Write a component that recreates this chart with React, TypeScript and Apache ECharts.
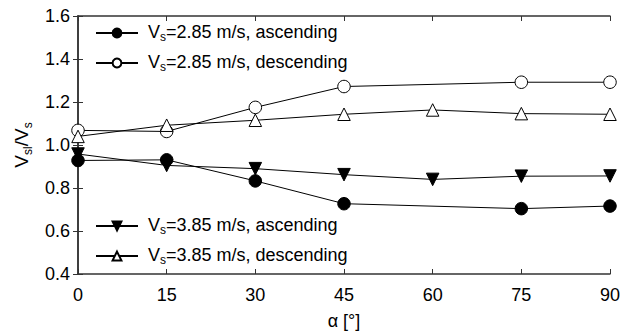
import React, { useEffect, useRef } from "react";
import * as echarts from "echarts";

const angles = [0, 15, 30, 45, 60, 75, 90];
const asc285: number[][] = [[0, 0.928], [15, 0.931], [30, 0.833], [45, 0.727], [75, 0.704], [90, 0.716]];
const desc285: number[][] = [[0, 1.068], [15, 1.063], [30, 1.175], [45, 1.272], [75, 1.292], [90, 1.292]];
const asc385 = [0.958, 0.905, 0.89, 0.862, 0.84, 0.855, 0.856];
const desc385 = [1.04, 1.092, 1.115, 1.143, 1.163, 1.146, 1.143];
const seriesNames = ["a285", "d285", "a385", "d385"];
const legendTexts = ["=2.85 m/s, ascending", "=2.85 m/s, descending", "=3.85 m/s, ascending", "=3.85 m/s, descending"];

const FONT = "Liberation Sans, Arial, sans-serif";
const FS = 18;

export default function App() {
  const ref = useRef<HTMLDivElement>(null);
  useEffect(() => {
    const chart = echarts.init(ref.current!, undefined, { renderer: "svg" });
    const rich = {
      n: { fontSize: FS, fontFamily: FONT, color: "#000", lineHeight: 20, verticalAlign: "top" as const },
      sub: { fontSize: 12, fontFamily: FONT, color: "#000", lineHeight: 12, padding: [12, 0, 0, 0], verticalAlign: "bottom" as const },
    };
    const legendPos = [14, 44, 207, 237];
    const legends = seriesNames.map((name, i) => ({
      data: [name],
      left: 90,
      top: legendPos[i],
      itemWidth: 42,
      itemHeight: 11,
      selectedMode: false,
      formatter: () => `{n|V}{sub|s}{n|${legendTexts[i]}}`,
      textStyle: { rich, padding: [0, 0, 0, 5] },
    }));
    const mk = (name: string, data: any, symbol: string, filled: boolean, rotate = 0) => ({
      name,
      type: "line",
      data,
      symbol,
      symbolSize: 12.5,
      symbolRotate: rotate,
      showAllSymbol: true,
      lineStyle: { color: "#000", width: 1 },
      itemStyle: { color: filled ? "#000" : "#fff", borderColor: "#000", borderWidth: 1 },
      xAxisIndex: 0,
      yAxisIndex: 0,
      z: 3,
    });
    const axisLine = { show: true, lineStyle: { color: "#333", width: 1.5 } };
    const axisTick = { show: true, inside: true, length: 5, lineStyle: { color: "#333", width: 1 } };
    chart.setOption({
      animation: false,
      backgroundColor: "#fff",
      grid: { left: 78, right: 22, top: 16, bottom: 51 },
      legend: legends,
      xAxis: [
        {
          type: "value", min: 0, max: 90, interval: 15, position: "bottom",
          axisLine, axisTick, splitLine: { show: false },
          axisLabel: { fontSize: 18, fontFamily: FONT, color: "#000", margin: 12 },
          name: "α [°]", nameLocation: "middle", nameGap: 38,
          nameTextStyle: { fontSize: 18, fontFamily: FONT, color: "#000" },
        },
        {
          type: "value", min: 0, max: 90, interval: 15, position: "top",
          axisLine, axisTick, splitLine: { show: false }, axisLabel: { show: false },
        },
      ],
      yAxis: [
        {
          type: "value", min: 0.4, max: 1.6, interval: 0.2, position: "left",
          axisLine, axisTick, splitLine: { show: false },
          axisLabel: { fontSize: 18, fontFamily: FONT, color: "#000", margin: 8, formatter: (v: number) => v.toFixed(1) },
          name: "{n|V}{sub|sl}{n|/V}{sub|s}", nameLocation: "middle", nameGap: 42, nameRotate: 90,
          nameTextStyle: {
            color: "#000",
            rich: {
              n: { fontSize: 19, fontFamily: FONT, color: "#000", lineHeight: 22, verticalAlign: "top" },
              sub: { fontSize: 12, fontFamily: FONT, color: "#000", lineHeight: 12, padding: [14, 0, 0, 0], verticalAlign: "bottom" },
            },
          },
        },
        {
          type: "value", min: 0.4, max: 1.6, interval: 0.2, position: "right",
          axisLine, axisTick, splitLine: { show: false }, axisLabel: { show: false },
        },
      ],
      series: [
        mk("a285", asc285, "circle", true),
        mk("d285", desc285, "circle", false),
        mk("a385", angles.map((a, i) => [a, asc385[i]]), "triangle", true, 180),
        mk("d385", angles.map((a, i) => [a, desc385[i]]), "triangle", false),
      ],
    });
    return () => chart.dispose();
  }, []);
  return <div ref={ref} style={{ width: 632, height: 335, position: "absolute", left: 0, top: 0 }} />;
}
